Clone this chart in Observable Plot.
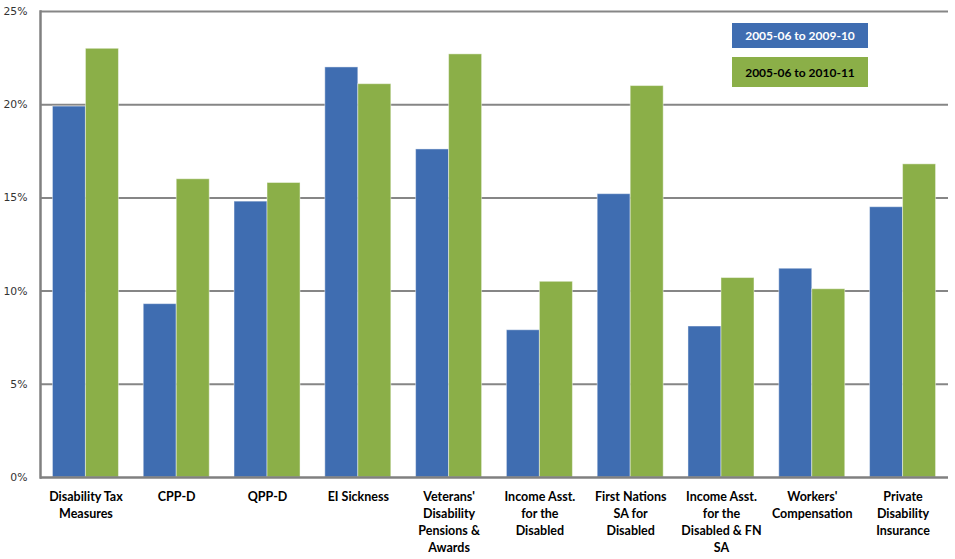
<!DOCTYPE html>
<html>
<head>
<meta charset="utf-8">
<script src="https://cdn.jsdelivr.net/npm/d3@7"></script>
<script src="https://cdn.jsdelivr.net/npm/@observablehq/plot@0.6"></script>
<style>
  html, body { margin: 0; padding: 0; background: #fff; }
  #wrap { position: relative; width: 955px; height: 559px; }
  .lg { position: absolute; left: 732px; width: 136px; display: flex; align-items: center; justify-content: center;
        font-family: Lato, "Open Sans", sans-serif; font-weight: bold; font-size: 12px; }
</style>
</head>
<body>
<div id="wrap"></div>
<script>
const categories = ["Disability Tax Measures", "CPP-D", "QPP-D", "EI Sickness", "Veterans' Disability Pensions & Awards",
  "Income Asst. for the Disabled", "First Nations SA for Disabled", "Income Asst. for the Disabled & FN SA",
  "Workers' Compensation", "Private Disability Insurance"];
const tickLabels = ["Disability Tax\nMeasures", "CPP-D", "QPP-D", "EI Sickness", "Veterans'\nDisability\nPensions &\nAwards",
  "Income Asst.\nfor the\nDisabled", "First Nations\nSA for\nDisabled", "Income Asst.\nfor the\nDisabled & FN\nSA",
  "Workers'\nCompensation", "Private\nDisability\nInsurance"];
const seriesNames = ["2005-06 to 2009-10", "2005-06 to 2010-11"];
const values0910 = [19.9, 9.3, 14.8, 22.0, 17.6, 7.9, 15.2, 8.1, 11.2, 14.5];
const values1011 = [23.0, 16.0, 15.8, 21.1, 22.7, 10.5, 21.0, 10.7, 10.1, 16.8];
const yTicks = [0, 5, 10, 15, 20, 25];

const colors = ["#3F6DB1", "#8BAF48"];
const data = categories.map((c, i) => ({category: c, a: values0910[i], b: values1011[i]}));

const W = 955, H = 559, ML = 40, MR = 7, MT = 11, MB = 82;
const padIn = 0.273, padOut = 0.137;
const step = (W - ML - MR) / (categories.length - padIn + 2 * padOut);
const half = step * (1 - padIn) / 2;

const chart = Plot.plot({
  width: W, height: H,
  marginTop: MT, marginBottom: MB, marginLeft: ML, marginRight: MR,
  style: {fontFamily: "DejaVu Sans, sans-serif", fontSize: "10.8px", background: "#fff"},
  x: {domain: categories, paddingInner: padIn, paddingOuter: padOut, round: false, label: null},
  y: {domain: [0, 25], label: null},
  marks: [
    Plot.gridY(yTicks.slice(1), {stroke: "#868686", strokeOpacity: 1, strokeWidth: 2}),
    Plot.barY(data, {x: "category", y: "a", fill: colors[0], insetRight: half, stroke: "#ffffff", strokeOpacity: 0.45, strokeWidth: 1}),
    Plot.barY(data, {x: "category", y: "b", fill: colors[1], insetLeft: half, stroke: "#ffffff", strokeOpacity: 0.45, strokeWidth: 1}),
    Plot.ruleY([0], {stroke: "#808080", strokeWidth: 2.5}),
    Plot.frame({anchor: "left", stroke: "#808080", strokeWidth: 2.5}),
    Plot.axisY({ticks: yTicks, tickSize: 0, tickPadding: 13, tickFormat: d => d + "%", label: null, color: "#333"}),
    Plot.axisX({tickSize: 0, tickPadding: 11, label: null, tickFormat: d => tickLabels[categories.indexOf(d)],
      lineHeight: 1.38, fontFamily: "Lato, sans-serif", fontWeight: "bold", fontSize: 12.5, color: "#000"})
  ]
});

const wrap = document.getElementById("wrap");
wrap.appendChild(chart);

const lg1 = document.createElement("div");
lg1.className = "lg";
lg1.style.cssText = "top:23px;height:25px;background:" + colors[0] + ";color:#fff;";
lg1.textContent = seriesNames[0];
const lg2 = document.createElement("div");
lg2.className = "lg";
lg2.style.cssText = "top:57px;height:30px;background:" + colors[1] + ";color:#000;";
lg2.textContent = seriesNames[1];
wrap.appendChild(lg1);
wrap.appendChild(lg2);
</script>
</body>
</html>
